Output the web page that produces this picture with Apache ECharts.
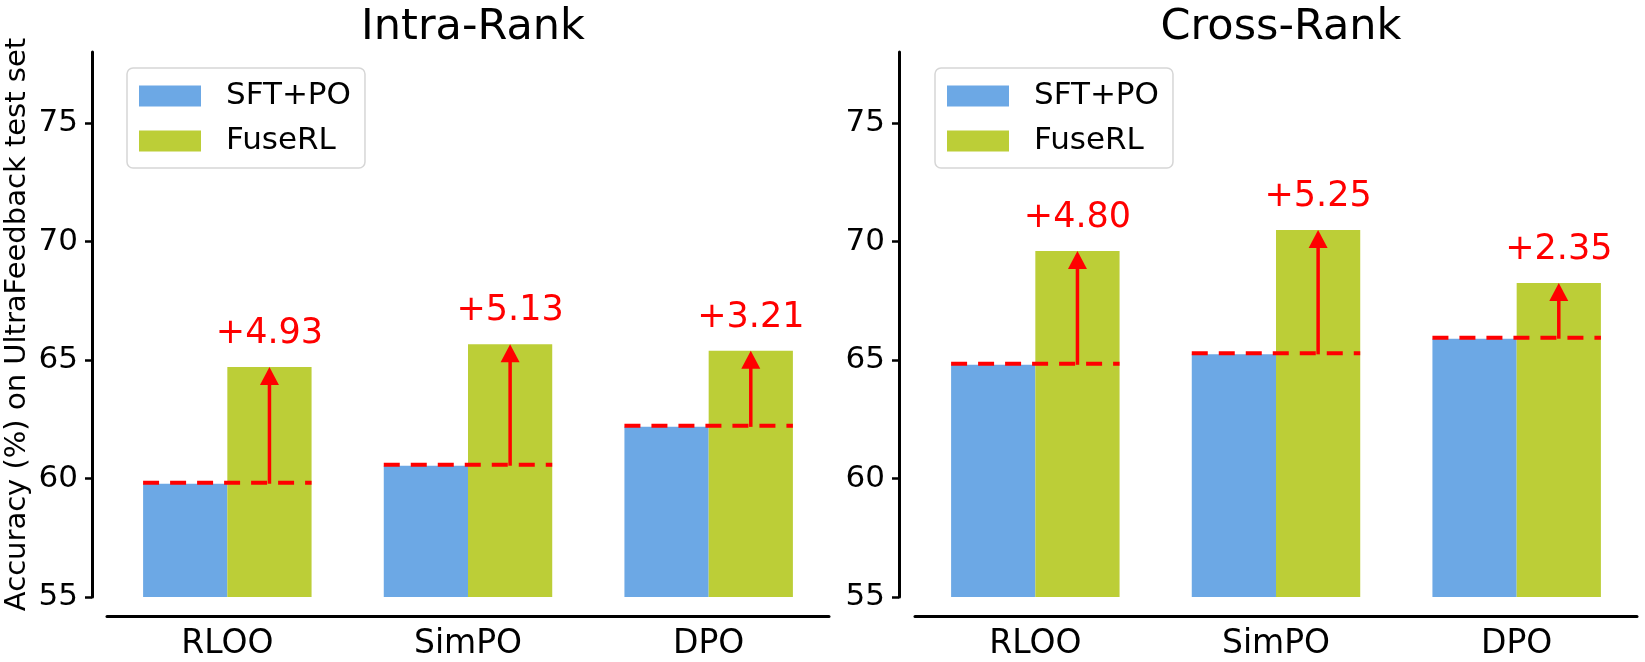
<!DOCTYPE html>
<html><head><meta charset="utf-8">
<script src="https://cdn.jsdelivr.net/npm/echarts@6/dist/echarts.min.js"></script>
<style>html,body{margin:0;padding:0;background:#fff}#c{width:1645px;height:662px}</style>
</head><body><div id="c"></div>
<script>
const categories = ['RLOO', 'SimPO', 'DPO'];
const panelTitles = ['Intra-Rank', 'Cross-Rank'];
const seriesNames = ['SFT+PO', 'FuseRL'];
const intraSFT = [59.78, 60.54, 62.18];
const intraFuse = [64.71, 65.67, 65.39];
const intraDelta = ['+4.93', '+5.13', '+3.21'];
const crossSFT = [64.80, 65.24, 65.90];
const crossFuse = [69.60, 70.49, 68.25];
const crossDelta = ['+4.80', '+5.25', '+2.35'];
const yTicks = [55, 60, 65, 70, 75];
const yMin = 55, yMax = 78;
const yName = 'Accuracy (%) on UltraFeedback test set';

const FONT = 'DejaVu Sans';
const BLUE = '#6CA8E5', GREEN = '#BCCE37', RED = '#FF0000';
const panels = [
  {sft: intraSFT, fuse: intraFuse, delta: intraDelta, left: 107, legendLeft: 127, yOffset: 15},
  {sft: crossSFT, fuse: crossFuse, delta: crossDelta, left: 915, legendLeft: 935, yOffset: 16}
];
const GW = 722, GTOP = 52, GBOT = 597;

const grid = [], xAxis = [], yAxis = [], series = [], legend = [], title = [];
panels.forEach((p, k) => {
  grid.push({left: p.left, width: GW, top: GTOP, height: GBOT - GTOP});
  title.push({text: panelTitles[k], left: p.left + GW / 2, top: 1, textAlign: 'center',
    textStyle: {fontFamily: FONT, fontSize: 43, fontWeight: 'normal', color: '#000'}});
  xAxis.push({type: 'category', gridIndex: k, data: categories, offset: 19,
    axisLine: {lineStyle: {color: '#000', width: 3}},
    axisTick: {alignWithLabel: true, length: 7, lineStyle: {color: '#000', width: 2.5}},
    axisLabel: {color: '#000', fontFamily: FONT, fontSize: 33, margin: 12}});
  yAxis.push({type: 'value', gridIndex: k, min: yMin, max: yMax, interval: 5, offset: p.yOffset,
    name: k === 0 ? yName : '', nameLocation: 'middle', nameGap: 60, nameRotate: 90,
    nameTextStyle: {fontFamily: FONT, fontSize: 29, color: '#000'},
    splitLine: {show: false},
    axisLine: {show: true, lineStyle: {color: '#000', width: 3}},
    axisTick: {show: true, length: 7, customValues: yTicks, lineStyle: {color: '#000', width: 2.5}},
    axisLabel: {color: '#000', fontFamily: FONT, fontSize: 31, margin: 14, customValues: yTicks}});
  series.push({name: seriesNames[0], type: 'bar', xAxisIndex: k, yAxisIndex: k, data: p.sft,
    barWidth: '35%', barGap: '0%', itemStyle: {color: BLUE}, silent: true});
  series.push({name: seriesNames[1], type: 'bar', xAxisIndex: k, yAxisIndex: k, data: p.fuse,
    barWidth: '35%', barGap: '0%', itemStyle: {color: GREEN}, silent: true});
  series.push({type: 'custom', xAxisIndex: k, yAxisIndex: k, silent: true, z: 10,
    data: categories.map((c, i) => [i, p.sft[i], p.fuse[i]]),
    encode: {x: 0, y: [1, 2]},
    renderItem: (params, api) => {
      const i = api.value(0);
      const pb = api.coord([i, api.value(1)]);
      const pt = api.coord([i, api.value(2)]);
      const bw = api.size([1, 0])[0] * 0.35;
      const ax = pb[0] + bw / 2;
      return {type: 'group', children: [
        {type: 'line', shape: {x1: pb[0] - bw, y1: pb[1] - 1, x2: pb[0] + bw, y2: pb[1] - 1},
          style: {stroke: RED, lineWidth: 4, lineDash: [16, 11]}},
        {type: 'line', shape: {x1: ax, y1: pb[1], x2: ax, y2: pt[1] + 14},
          style: {stroke: RED, lineWidth: 3.5}},
        {type: 'polygon', shape: {points: [[ax, pt[1]], [ax - 9.5, pt[1] + 18], [ax + 9.5, pt[1] + 18]]},
          style: {fill: RED}},
        {type: 'text', x: ax, y: pt[1] - 33,
          style: {text: p.delta[params.dataIndex], fill: RED, fontFamily: FONT, fontSize: 35,
            align: 'center', verticalAlign: 'middle'}}
      ]};
    }});
  legend.push({left: p.legendLeft, top: 68, orient: 'vertical', data: seriesNames,
    icon: 'rect', itemWidth: 62, itemHeight: 21, itemGap: 11,
    padding: [11, 14, 10, 12], borderColor: '#d6d6d6', borderWidth: 1.5, borderRadius: 6,
    backgroundColor: '#fff', selectedMode: false,
    textStyle: {fontFamily: FONT, fontSize: 31, color: '#000', lineHeight: 34, padding: [0, 0, 0, 20]}});
});

const chart = echarts.init(document.getElementById('c'), null, {renderer: 'canvas'});
chart.setOption({animation: false, backgroundColor: '#fff', title, grid, xAxis, yAxis, series, legend});
</script></body></html>
